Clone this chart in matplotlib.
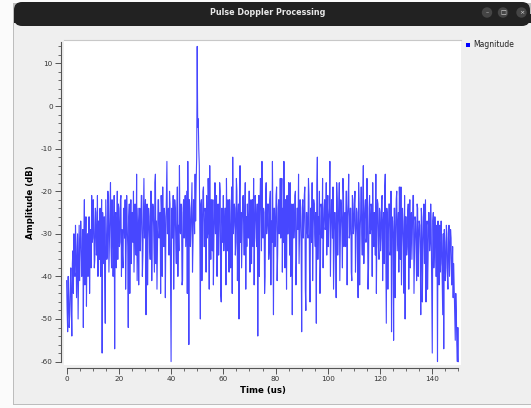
import numpy as np
import matplotlib
matplotlib.use("Agg")
import matplotlib.pyplot as plt
from matplotlib.patches import FancyBboxPatch, Rectangle, Circle
from matplotlib.ticker import MultipleLocator

plt.rcParams["axes.unicode_minus"] = False

# magnitude samples (dB), one every 0.2 us from 0 to 150 us (two lines = 10 us)
mag_db = [
    -41, -48, -53, -40, -45, -52, -49, -42, -38, -47, -54, -37, -34, -44, -30, -39, -40, -28, -33, -45, -37, -30, -50, -38, -28,
    -41, -34, -27, -31, -40, -39, -29, -52, -31, -22, -42, -35, -26, -47, -33, -30, -40, -37, -26, -44, -33, -29, -38, -21, -32,
    -31, -22, -27, -38, -36, -24, -25, -35, -33, -21, -40, -27, -28, -36, -24, -40, -34, -22, -58, -25, -30, -37, -26, -41, -51,
    -22, -29, -36, -35, -20, -23, -39, -31, -24, -18, -33, -38, -22, -27, -40, -33, -21, -57, -26, -25, -38, -30, -20, -36, -23,
    -24, -33, -32, -22, -21, -40, -29, -35, -38, -24, -26, -31, -22, -43, -34, -21, -28, -33, -52, -26, -23, -44, -30, -22, -37,
    -25, -25, -32, -20, -39, -31, -23, -27, -35, -16, -41, -33, -24, -42, -28, -24, -34, -29, -21, -21, -40, -35, -25, -17, -31,
    -27, -22, -49, -30, -23, -42, -31, -24, -26, -33, -36, -20, -20, -41, -28, -23, -24, -32, -39, -18, -16, -37, -27, -43, -32,
    -22, -22, -31, -29, -25, -44, -21, -25, -40, -19, -31, -33, -24, -26, -45, -30, -21, -13, -30, -28, -24, -35, -20, -23, -42,
    -60, -24, -26, -31, -21, -43, -31, -22, -24, -32, -37, -25, -19, -40, -28, -34, -14, -29, -30, -23, -25, -42, -41, -24, -22,
    -31, -27, -21, -33, -26, -20, -44, -13, -28, -56, -22, -24, -33, -29, -24, -18, -39, -32, -22, -23, -30, -16, -27, -18, -12,
    14, -5, -3, -10, -14, -30, -50, -23, -22, -41, -28, -20, -19, -33, -33, -24, -25, -39, -21, -31, -30, -17, -24, -43, -14,
    -29, -36, -22, -27, -34, -22, -42, -31, -26, -18, -30, -26, -21, -40, -25, -23, -35, -29, -18, -20, -44, -46, -24, -25, -32,
    -21, -34, -30, -24, -24, -42, -17, -29, -34, -22, -26, -39, -22, -31, -38, -25, -19, -44, -12, -30, -28, -23, -24, -35, -32,
    -17, -20, -41, -27, -23, -50, -21, -14, -32, -25, -38, -30, -22, -21, -29, -35, -24, -18, -43, -26, -33, -23, -30, -31, -20,
    -20, -39, -27, -22, -37, -25, -22, -33, -17, -42, -29, -21, -24, -31, -33, -23, -54, -26, -21, -40, -26, -17, -19, -34, -13,
    -29, -31, -24, -25, -44, -40, -21, -18, -30, -28, -23, -23, -36, -34, -22, -20, -42, -27, -32, -13, -28, -49, -24, -24, -33,
    -29, -21, -19, -41, -35, -24, -22, -30, -26, -17, -31, -23, -17, -39, -24, -32, -13, -28, -38, -22, -27, -43, -21, -30, -30,
    -18, -25, -35, -18, -40, -34, -23, -49, -25, -23, -31, -28, -21, -20, -42, -36, -24, -24, -29, -16, -37, -29, -22, -26, -33,
    -53, -24, -22, -31, -27, -21, -19, -43, -48, -25, -25, -30, -31, -17, -21, -39, -46, -24, -24, -32, -18, -41, -29, -22, -23,
    -30, -33, -25, -51, -19, -12, -36, -26, -30, -20, -44, -37, -23, -24, -31, -17, -38, -30, -24, -22, -29, -28, -18, -35, -25,
    -21, -33, -27, -24, -13, -40, -30, -22, -23, -31, -19, -43, -34, -25, -25, -30, -45, -18, -22, -35, -28, -24, -18, -41, -31,
    -22, -24, -29, -38, -17, -21, -33, -27, -25, -33, -20, -20, -42, -26, -23, -16, -31, -30, -24, -24, -39, -41, -21, -22, -30,
    -28, -23, -20, -39, -33, -24, -25, -31, -45, -18, -23, -42, -29, -25, -19, -30, -35, -22, -14, -37, -27, -24, -22, -32, -31,
    -17, -26, -43, -38, -24, -21, -30, -29, -23, -24, -40, -18, -31, -33, -25, -27, -35, -16, -44, -30, -22, -23, -33, -36, -24,
    -25, -34, -31, -22, -21, -41, -28, -25, -37, -19, -16, -32, -51, -24, -26, -43, -30, -23, -23, -35, -34, -20, -53, -26, -27,
    -31, -55, -24, -24, -45, -32, -22, -20, -34, -29, -25, -39, -19, -25, -36, -19, -42, -33, -24, -27, -33, -44, -21, -50, -26,
    -26, -35, -33, -25, -23, -43, -30, -22, -38, -27, -25, -36, -29, -21, -21, -44, -35, -26, -27, -33, -41, -23, -24, -40, -31,
    -27, -28, -35, -49, -24, -26, -46, -34, -27, -23, -37, -30, -22, -46, -28, -27, -43, -36, -25, -25, -34, -32, -23, -29, -45,
    -58, -27, -25, -38, -34, -26, -30, -40, -40, -28, -60, -27, -31, -42, -28, -39, -37, -27, -33, -41, -49, -30, -57, -29, -32,
    -41, -38, -28, -30, -40, -43, -31, -28, -40, -35, -29, -31, -42, -39, -33, -45, -37, -43, -50, -55, -44, -48, -56, -60, -52,
    -60,
]
time_us = np.linspace(0, 150, len(mag_db))

win_title = "Pulse Doppler Processing"
series_name = "Magnitude"

W, H = 531, 408
fig = plt.figure(figsize=(W / 100, H / 100), dpi=100)
fig.patch.set_facecolor("#fbfbfb")

# window frame drawn in pixel coords
bg = fig.add_axes([0, 0, 1, 1], zorder=0)
bg.set_xlim(0, W)
bg.set_ylim(H, 0)
bg.axis("off")
bg.add_patch(Rectangle((13, 3), 518, 402, facecolor="#bdbdbd", edgecolor="none"))
bg.add_patch(Rectangle((14, 20), 517, 384, facecolor="#efefef", edgecolor="none"))
bg.add_patch(FancyBboxPatch((14, 2), 516, 24, boxstyle="round,pad=0,rounding_size=8",
                            facecolor="#222222", edgecolor="none"))
bg.add_patch(Rectangle((14, 14), 517, 8.5, facecolor="#222222", edgecolor="none"))
bg.text(268, 12.5, win_title, color="#e8e8e8", fontsize=5.8, fontweight="bold",
        ha="center", va="center")
for bx, glyph in [(487, "–"), (503, "□"), (521.5, "×")]:
    bg.add_patch(Circle((bx, 12.5), 5.2, facecolor="#454545", edgecolor="none"))
    bg.text(bx, 12.5, glyph, color="#dddddd", fontsize=4.5, ha="center", va="center")

# legend
bg.add_patch(Rectangle((465.5, 42.5), 4, 4, facecolor="#0000ff", edgecolor="none"))
bg.text(473, 44.8, series_name, fontsize=5.5, color="#222222", va="center")

# plot canvas
ax = fig.add_axes([64 / W, 1 - 365 / H, (461 - 64) / W, (365 - 40) / H], zorder=1)
ax.set_facecolor("white")
ax.plot(time_us, mag_db, color="#0000ff", alpha=0.72, lw=0.8)
ax.set_xlim(-1.0, 151.0)
ax.set_ylim(-60.8, 15.5)

for s in ["top", "right"]:
    ax.spines[s].set_visible(False)
ax.spines["left"].set_position(("outward", 2))
ax.spines["bottom"].set_position(("outward", 2))
ax.spines["left"].set_bounds(-60, 15)
ax.spines["bottom"].set_bounds(0, 150)
ax.spines["left"].set_color("#555555")
ax.spines["bottom"].set_color("#555555")
ax.plot([0, 1], [1, 1], transform=ax.transAxes, color="#c8c8c8", lw=0.8, clip_on=False)

ax.xaxis.set_major_locator(MultipleLocator(20))
ax.xaxis.set_minor_locator(MultipleLocator(5))
ax.yaxis.set_major_locator(MultipleLocator(10))
ax.yaxis.set_minor_locator(MultipleLocator(2))
ax.tick_params(which="major", length=4, width=0.7, color="#555555", labelsize=5.2,
               labelcolor="#333333", pad=2)
ax.tick_params(which="minor", length=2.2, width=0.6, color="#555555")

ax.set_xlabel("Time (us)", fontsize=6.2, fontweight="bold", labelpad=3)
ax.set_ylabel("Amplitude (dB)", fontsize=6.2, fontweight="bold", labelpad=4)

fig.savefig("out.png", dpi=100, facecolor=fig.get_facecolor())
